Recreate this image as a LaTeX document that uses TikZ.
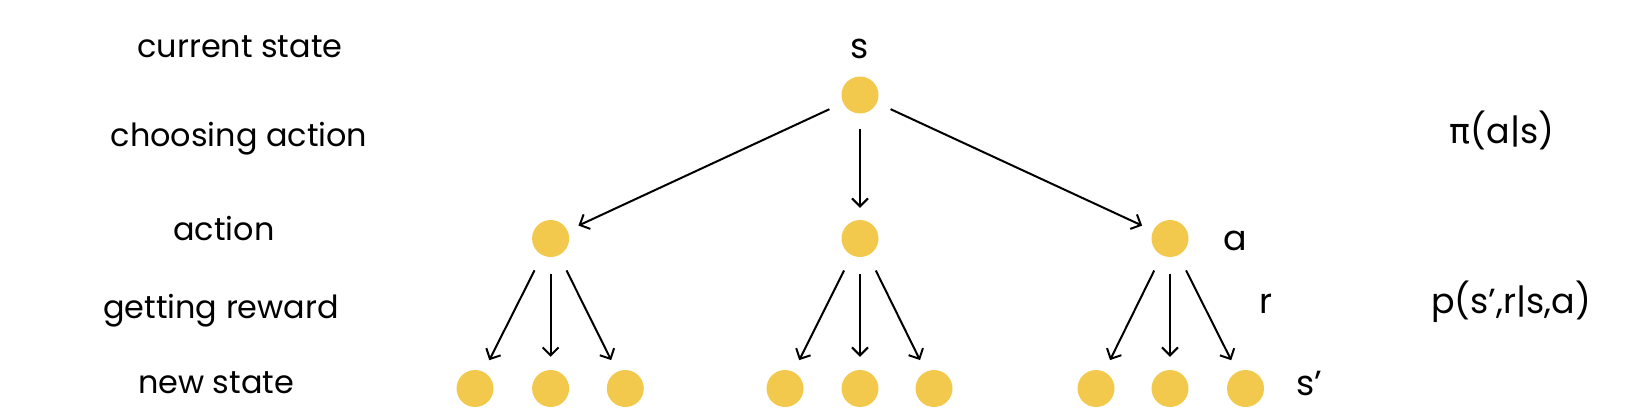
\documentclass[tikz,border=0pt]{standalone}
\usepackage{fontspec}
\setmainfont{Poppins}
\newfontfamily\grk{DejaVu Sans}
\usetikzlibrary{arrows.meta}
\definecolor{dotc}{HTML}{F2C94C}
\begin{document}
\begin{tikzpicture}[x=1bp,y=-1bp,
  dot/.style={circle,fill=dotc,minimum size=37bp,inner sep=0pt},
  arr/.style={-{Straight Barb[length=8bp,width=16bp]}, line width=2bp},
  lab/.style={font=\fontsize{32}{36}\selectfont, anchor=base, inner sep=0pt},
  sym/.style={font=\fontsize{35}{40}\selectfont, anchor=base, inner sep=0pt}]
\useasboundingbox (0,0) rectangle (1626,418);
% dots
\node[dot] (s) at (860,95) {};
\node[dot] (a1) at (550.6,238.5) {};
\node[dot] (a2) at (860,238.5) {};
\node[dot] (a3) at (1170,238.5) {};
\foreach \i/\x in {1/475,2/550.6,3/625.3,4/785,5/860,6/934,7/1096,8/1170,9/1245.5}
  \node[dot] (n\i) at (\x,388.5) {};
% arrows
\foreach \t in {a1,a2,a3}
  \draw[arr, shorten <=15bp, shorten >=12bp] (s) -- (\t);
\draw[arr, shorten <=17bp, shorten >=13bp] (a1) -- (n1);
\draw[arr, shorten <=17bp, shorten >=13bp] (a1) -- (n2);
\draw[arr, shorten <=17bp, shorten >=13bp] (a1) -- (n3);
\draw[arr, shorten <=17bp, shorten >=13bp] (a2) -- (n4);
\draw[arr, shorten <=17bp, shorten >=13bp] (a2) -- (n5);
\draw[arr, shorten <=17bp, shorten >=13bp] (a2) -- (n6);
\draw[arr, shorten <=17bp, shorten >=13bp] (a3) -- (n7);
\draw[arr, shorten <=17bp, shorten >=13bp] (a3) -- (n8);
\draw[arr, shorten <=17bp, shorten >=13bp] (a3) -- (n9);
% symbol labels
\node[sym] (ls) at (860,58) {s};
\node[sym] (la) at (1235,250) {a};
\node[sym] (lr) at (1266,313) {r};
\node[sym] (lsp) at (1309,395) {s’};
\node[sym] (pi) at (1502,143) {{\grk π}(a|s)};
\node[sym] (pp) at (1511,313) {p(s’,r|s,a)};
% left labels
\node[lab] (l1) at (240,57) {current state};
\node[lab] (l2) at (239,146) {choosing action};
\node[lab] (l3) at (224,240) {action};
\node[lab] (l4) at (221,318) {getting reward};
\node[lab] (l5) at (216,393) {new state};
\end{tikzpicture}
\end{document}
